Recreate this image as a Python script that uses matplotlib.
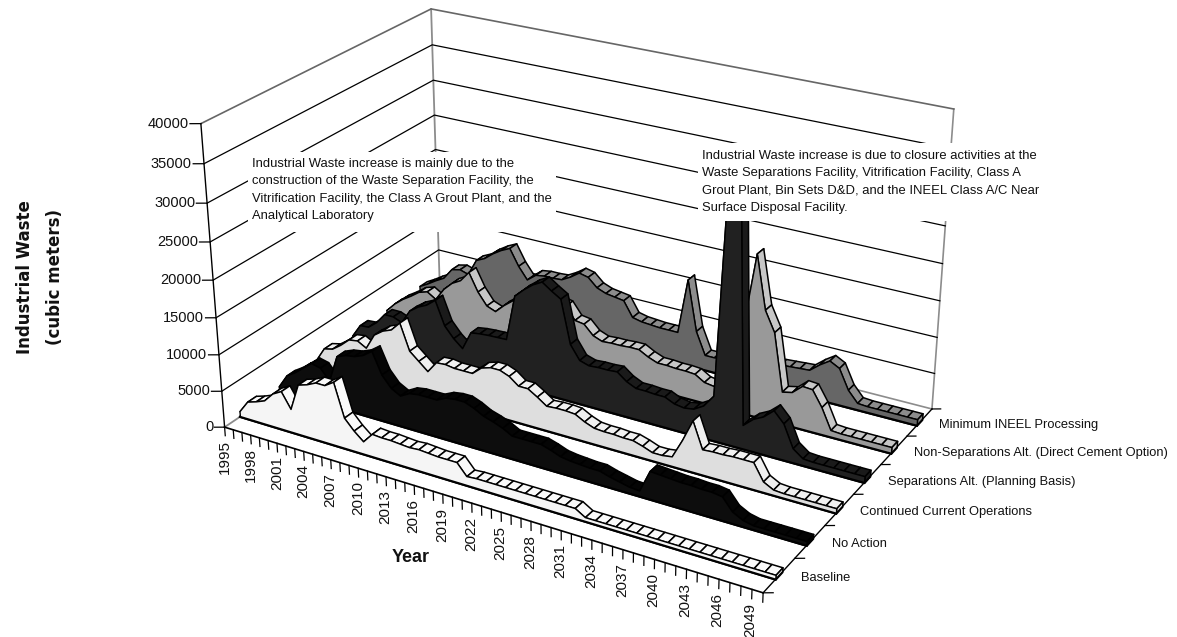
import numpy as np
import matplotlib
matplotlib.use('Agg')
import matplotlib.pyplot as plt
from matplotlib.patches import Rectangle
from mpl_toolkits.mplot3d.art3d import Poly3DCollection

W, H = 1177, 637

series = ['Baseline', 'No Action', 'Continued Current Operations', 'Separations Alt. (Planning Basis)',
          'Non-Separations Alt. (Direct Cement Option)', 'Minimum INEEL Processing']
years = list(range(1995, 2051))
z_ticks = [0, 5000, 10000, 15000, 20000, 25000, 30000, 35000, 40000]

baseline = [800, 2500, 2900, 3400, 4700, 5400, 3300, 7000, 7400, 8000, 8000, 8800, 4300, 2900, 1800, 3200, 3100, 3100, 3000,
            2900, 3000, 2900, 2800, 2800, 2800, 1300, 1400, 1400, 1400, 1400, 1400, 1400, 1400, 1400, 1400, 1400, 1400, 600,
            600, 600, 600, 600, 600, 600, 600, 600, 600, 600, 600, 600, 600, 600, 600, 600, 600, 600]
no_action = [600, 2500, 3300, 4300, 5300, 5000, 3500, 7300, 7800, 8000, 8500, 9400, 6500, 5000, 4300, 5000, 5200, 5200, 5200,
             5800, 6000, 6000, 5500, 4800, 4400, 3900, 3200, 3200, 3200, 3200, 2800, 2300, 2100, 2000, 1900, 1900, 1500,
             1200, 900, 800, 3800, 3700, 3600, 3500, 3500, 3400, 3400, 3200, 1600, 900, 600, 600, 600, 600, 600, 600]
continued = [800, 2800, 3100, 4000, 5100, 5300, 4600, 6800, 7700, 8200, 9500, 5900, 4800, 3700, 5300, 5400, 5200, 5200, 5200,
             6300, 6700, 6700, 6200, 5200, 5200, 4400, 3500, 3600, 3600, 3500, 2800, 2300, 2200, 2200, 2100, 2100, 1700,
             1200, 1200, 1400, 4000, 7000, 3500, 3600, 3600, 3700, 3700, 3700, 1500, 800, 700, 700, 700, 700, 700, 700]
separations = [800, 2700, 2800, 3800, 5300, 5300, 4800, 6800, 7700, 8300, 9300, 6000, 4500, 3400, 6000, 6200, 6300, 6350, 6400,
               12800, 14000, 15000, 15700, 14800, 14000, 8100, 6200, 5800, 5900, 5900, 6000, 5000, 4400, 4400, 4300, 4300,
               3700, 3500, 3700, 4500, 6200, 38000, 38000, 3300, 4500, 5200, 6400, 5000, 2000, 1000, 900, 900, 900, 900, 900, 900]
non_separations = [1200, 2500, 3500, 4300, 5200, 5600, 4800, 6600, 7800, 8500, 10000, 7500, 5800, 5300, 6500, 7500, 8000,
                   8500, 8700, 8900, 9000, 8700, 7000, 6800, 5500, 5000, 5100, 5100, 5200, 5200, 4500, 4000, 4000, 3900, 3900,
                   3800, 3000, 2800, 2800, 6000, 13300, 22200, 15000, 12300, 4500, 4800, 6000, 5900, 3800, 1000, 900, 900, 900, 900, 900, 900]
minimum = [1500, 2200, 3000, 3700, 5300, 5600, 5200, 7600, 8200, 9200, 10000, 10600, 8300, 6600, 7600, 7800, 7800, 7900,
           8600, 9500, 9200, 8000, 7500, 7300, 7100, 5000, 4700, 4600, 4500, 4500, 4500, 12300, 5300, 2200, 2200, 2400, 2600,
           2800, 3000, 3200, 3400, 3600, 3700, 3800, 3900, 5000, 5900, 5200, 2500, 1000, 900, 900, 900, 900, 900, 900]
values = [baseline, no_action, continued, separations, non_separations, minimum]

face_colors = ['0.96', '0.05', '0.87', '0.13', '0.6', '0.4']
strip_colors = ['0.98', '0.02', '0.94', '0.1', '0.78', '0.55']

note1 = ('Industrial Waste increase is mainly due to the\nconstruction of the Waste Separation Facility, the\n'
         'Vitrification Facility, the Class A Grout Plant, and the\nAnalytical Laboratory')
note2 = ('Industrial Waste increase is due to closure activities at the\nWaste Separations Facility, Vitrification Facility, Class A\n'
         'Grout Plant, Bin Sets D&D, and the INEEL Class A/C Near\nSurface Disposal Facility.')

x_max, y_max, z_max = len(years) - 1, len(series), z_ticks[-1]

# where the chart's box sits in the reference: (year index, series index, value) -> pixel
anchors = [
    (0, 0, 0, 225, 428), (x_max, 0, 0, 763, 592), (x_max, 6, 0, 932, 408), (0, 6, 0, 440, 280),
    (0, 0, 5000, 222, 392), (0, 0, 10000, 219, 356), (0, 0, 15000, 216, 318), (0, 0, 20000, 213, 280),
    (0, 0, 25000, 210, 241), (0, 0, 30000, 207, 202), (0, 0, 35000, 204, 163), (0, 0, 40000, 201, 124),
    (0, 6, 5000, 438, 251), (0, 6, 40000, 431, 10), (x_max, 6, 40000, 954, 109),
    (x_max, 1, 0, 795, 559), (x_max, 2, 0, 825, 525), (x_max, 3, 0, 853, 494), (x_max, 4, 0, 880, 465),
    (x_max, 5, 0, 907, 437), (x_max, 6, 5000, 935, 374), (x_max, 6, 10000, 938, 338),
    (x_max, 6, 15000, 940, 301), (x_max, 6, 20000, 942, 263),
]


def fit_camera(points):
    rows, rhs = [], []
    for x, y, z, u, v in points:
        a, b, c = x / x_max, y / y_max, z / z_max
        rows.append([a, b, c, 1, 0, 0, 0, 0, -u * a, -u * b, -u * c])
        rows.append([0, 0, 0, 0, a, b, c, 1, -v * a, -v * b, -v * c])
        rhs += [u, v]
    p = np.linalg.lstsq(np.array(rows, float), np.array(rhs, float), rcond=None)[0]
    cam = np.append(p, 1).reshape(3, 4)
    return cam @ np.diag([1 / x_max, 1 / y_max, 1 / z_max, 1])


camera = fit_camera(anchors)


def project(x, y, z):
    u, v, w = camera @ np.array([x, y, z, 1.0])
    return u / w, v / w


fig = plt.figure(figsize=(W / 100, H / 100), dpi=100)
# 3d axes stay square, so make it a square wider than the figure is tall
ax = fig.add_axes([0, 0.5 - W / H / 2, 1, W / H], projection='3d')
ax.set_axis_off()
ax.computed_zorder = False


def get_proj():
    to_view = ax.transData.inverted().get_matrix()
    flip = np.array([[1, 0, 0], [0, -1, H], [0, 0, 1]], float)
    p = to_view @ flip @ camera
    # depth stays negative, lines with a positive depth get dropped
    return np.vstack([p[0], p[1], [0, 0, 0, -1], p[2]])


ax.get_proj = get_proj

# walls
grey = '0.55'
ax.plot([0, 0], [0, y_max], [0, 0], color=grey, lw=1.3, zorder=5)
ax.plot([0, x_max], [y_max, y_max], [0, 0], color=grey, lw=1.2, zorder=5)
ax.plot([0, 0], [y_max, y_max], [0, z_max], color=grey, lw=1.3, zorder=5)
ax.plot([x_max, x_max], [y_max, y_max], [0, z_max], color=grey, lw=1.2, zorder=5)
ax.plot([0, 0, x_max], [0, y_max, y_max], [z_max, z_max, z_max], color='0.4', lw=1.2, zorder=5)
for z in z_ticks[1:-1]:
    ax.plot([0, 0, x_max], [0, y_max, y_max], [z, z, z], color='k', lw=0.9, zorder=5)

# ribbons, back to front
order = 10
for k in range(len(series) - 1, -1, -1):
    v = values[k]
    y0, y1 = k + 0.38, k + 0.6
    polys = [[(i, y0, v[i]), (i + 1, y0, v[i + 1]), (i + 1, y1, v[i + 1]), (i, y1, v[i])] for i in range(x_max)]
    for poly in polys:
        ax.add_collection3d(Poly3DCollection([poly], facecolors=strip_colors[k], edgecolors='k', linewidths=1.1, zorder=order))
        order += 1
    cap = [(x_max, y0, 0), (x_max, y1, 0), (x_max, y1, v[-1]), (x_max, y0, v[-1])]
    ax.add_collection3d(Poly3DCollection([cap], facecolors=strip_colors[k], edgecolors='k', linewidths=1.1, zorder=order))
    order += 1
    face = [(0, y0, 0)] + [(i, y0, v[i]) for i in range(len(v))] + [(x_max, y0, 0)]
    ax.add_collection3d(Poly3DCollection([face], facecolors=face_colors[k], edgecolors='k', linewidths=1.0, zorder=order))
    order += 1
    ax.plot([0, x_max], [y0, y0], [0, 0], color='k', lw=1.6, zorder=order)
    order += 1

# axes lines and ticks
ax.plot([0, 0], [0, 0], [0, z_max], color='k', lw=1.0, zorder=order)
ax.plot([0, x_max], [0, 0], [0, 0], color='k', lw=1.2, zorder=order)
ax.plot([x_max, x_max], [0, y_max], [0, 0], color='k', lw=1.0, zorder=order)
for z in z_ticks:
    ax.plot([0, -0.81], [0, -0.08], [z, z], color='k', lw=0.9, zorder=order)
for i in range(len(years)):
    ax.plot([i, i], [0, 0], [0, -1200], color='k', lw=0.9, zorder=order)
for k in range(len(series) + 1):
    ax.plot([x_max, x_max + 0.7], [k, k + 0.07], [0, 0], color='k', lw=0.9, zorder=order)


def label(px, py, s, **kw):
    kw.setdefault('family', 'Liberation Sans')
    kw.setdefault('color', '#111111')
    kw.setdefault('zorder', 6)
    return fig.text(px / W, 1 - py / H, s, **kw)


# tick labels, placed where the camera puts their ticks
for z in z_ticks:
    px, py = project(-0.9, -0.09, z)
    label(px, py, str(z), ha='right', va='center', fontsize=10.5)
for i, year in enumerate(years):
    if i % 3 == 0 and i < x_max:
        px, py = project(i, 0, -1800)
        label(px - 1, py, str(year), rotation=90, ha='center', va='top', fontsize=11)
for k, name in enumerate(series):
    px, py = project(x_max + 1.6, k + 0.64, 0)
    label(px, py + 2, name, ha='left', va='center', fontsize=9.3)

# white boxes behind the notes hide the gridlines and the top of the peak
fig.add_artist(Rectangle((247.5 / W, 1 - 232 / H), 308.5 / W, 80 / H, transform=fig.transFigure, fc='white', ec='none', zorder=5))
fig.add_artist(Rectangle((698 / W, 1 - 221 / H), 344 / W, 78 / H, transform=fig.transFigure, fc='white', ec='none', zorder=5))
label(252, 158, note1, ha='left', va='top', fontsize=9.4, linespacing=1.6)
label(702, 150, note2, ha='left', va='top', fontsize=9.4, linespacing=1.6)

label(411, 558, 'Year', ha='center', va='center', fontsize=13, fontweight='bold')
label(40, 277, 'Industrial Waste\n(cubic meters)', rotation=90, ha='center', va='center', multialignment='center',
      fontsize=12, fontweight='bold', family='DejaVu Sans', linespacing=1.9)

fig.savefig('out.png', dpi=100)
